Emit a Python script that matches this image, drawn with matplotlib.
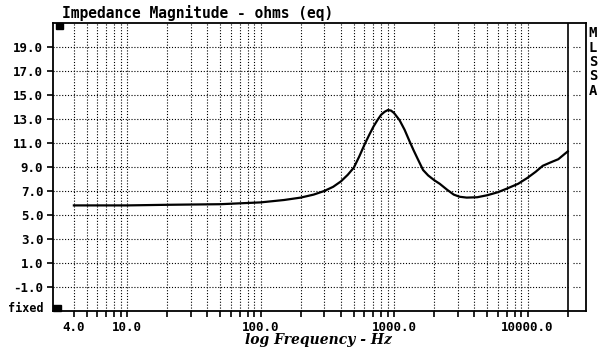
import matplotlib
matplotlib.use('Agg')
import matplotlib.pyplot as plt
from matplotlib.patches import Rectangle

# impedance curve
freqHz = [4, 10, 20, 50, 100, 150, 200, 250, 300, 350, 400, 450, 500, 550,
          600, 650, 700, 750, 800, 850, 900, 950, 1000, 1100, 1200, 1300,
          1400, 1500, 1650, 1800, 2000, 2200, 2500, 2800, 3100, 3500, 4200,
          5000, 6000, 7000, 8500, 10000, 11500, 13000, 15000, 17000, 20000]
ohms = [5.8, 5.8, 5.85, 5.9, 6.05, 6.25, 6.45, 6.7, 7.0, 7.35, 7.8, 8.35,
        8.95, 9.9, 10.85, 11.65, 12.35, 12.9, 13.35, 13.6, 13.75, 13.7,
        13.5, 12.9, 12.1, 11.2, 10.4, 9.7, 8.75, 8.3, 7.9, 7.6, 7.1, 6.7,
        6.52, 6.45, 6.48, 6.65, 6.9, 7.2, 7.6, 8.1, 8.6, 9.1, 9.4, 9.65, 10.3]

gridFreqs = [4, 5, 6, 7, 8, 9, 10, 20, 30, 40, 50, 60, 70, 80, 90,
             100, 200, 300, 400, 500, 600, 700, 800, 900,
             1000, 2000, 3000, 4000, 5000, 6000, 7000, 8000, 9000, 10000, 20000]
xLabelMap = {4: '4.0', 10: '10.0', 100: '100.0', 1000: '1000.0', 10000: '10000.0'}
yTickValues = [19, 17, 15, 13, 11, 9, 7, 5, 3, 1, -1]
yTickLabels = ['19.0', '17.0', '15.0', '13.0', '11.0', '9.0', '7.0', '5.0',
               '3.0', '1.0', '-1.0']
sideLetters = ['M', 'L', 'S', 'S', 'A']

MONO = 'DejaVu Sans Mono'
DOTS = (0, (1, 1.6))

fig = plt.figure(figsize=(6, 3.55), dpi=100)
ax = fig.add_axes([53 / 600, 1 - 311 / 355, 533 / 600, 288 / 355])

ax.set_xscale('log')
ax.set_xlim(2.79, 27400)
ax.set_ylim(-3, 21)

# dotted grid
for f in gridFreqs[:-1]:
    ax.axvline(f, color='black', lw=0.8, ls=DOTS)
ax.axvline(20000, color='black', lw=1.2)
ax.hlines(yTickValues, 2.79, 20000, color='black', lw=0.8, linestyles=[DOTS])
ax.hlines(yTickValues, 21900, 24700, color='black', lw=0.8, linestyles=[DOTS])

ax.plot(freqHz, ohms, color='black', lw=1.6)

ax.set_xticks(gridFreqs)
ax.set_xticklabels([xLabelMap.get(f, '') for f in gridFreqs])
ax.minorticks_off()
ax.set_yticks(yTickValues)
ax.set_yticklabels(yTickLabels)
ax.tick_params(axis='both', direction='out', length=4, width=1.2, pad=3,
               labelsize=9)
for lab in ax.get_xticklabels() + ax.get_yticklabels():
    lab.set_fontfamily(MONO)
    lab.set_fontweight('bold')

for sp in ax.spines.values():
    sp.set_linewidth(1.3)

# corner markers
ax.add_patch(Rectangle((0.005, 0.98), 0.013, 0.02, transform=ax.transAxes,
                       color='black', clip_on=False))
ax.add_patch(Rectangle((0.0, 0.0), 0.015, 0.021, transform=ax.transAxes,
                       color='black', clip_on=False))

fig.text(62 / 600, 1 - 18 / 355, 'Impedance Magnitude - ohms (eq)',
         family=MONO, weight='bold', fontsize=10.5, va='baseline')
fig.text(44 / 600, 1 - 308 / 355, 'fixed', family=MONO, weight='bold',
         fontsize=8.5, ha='right', va='center')
fig.text(318 / 600, 1 - 340 / 355, 'log Frequency - Hz', family='DejaVu Serif',
         weight='bold', style='italic', fontsize=10, ha='center', va='center')
for i, ch in enumerate(sideLetters):
    fig.text(593 / 600, 1 - (33 + 14.5 * i) / 355, ch, family=MONO,
             weight='bold', fontsize=10, ha='center', va='center')

fig.savefig('out.png', dpi=100)
